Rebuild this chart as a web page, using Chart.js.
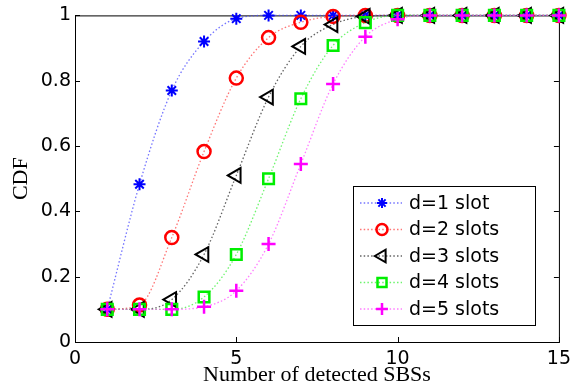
<!DOCTYPE html>
<html>
<head>
<meta charset="utf-8">
<script src="https://cdn.jsdelivr.net/npm/chart.js@4/dist/chart.umd.min.js"></script>
<style>
  html, body { margin: 0; padding: 0; background: #fff; }
  #wrap { width: 577px; height: 389px; }
</style>
</head>
<body>
<div id="wrap"><canvas id="cdf"></canvas></div>
<script>
// data
const detected = [1, 2, 3, 4, 5, 6, 7, 8, 9, 10, 11, 12, 13, 14, 15];
const d1 = [0.1, 0.483, 0.77, 0.92, 0.99, 1, 1, 1, 1, 1, 1, 1, 1, 1, 1];
const d2 = [0.1, 0.113, 0.32, 0.583, 0.808, 0.932, 0.979, 0.997, 1, 1, 1, 1, 1, 1, 1];
const d3 = [0.1, 0.1, 0.13, 0.268, 0.51, 0.75, 0.905, 0.972, 0.997, 1, 1, 1, 1, 1, 1];
const d4 = [0.1, 0.1, 0.1, 0.138, 0.268, 0.5, 0.745, 0.908, 0.978, 1, 1, 1, 1, 1, 1];
const d5 = [0.1, 0.1, 0.1, 0.108, 0.157, 0.3, 0.545, 0.79, 0.935, 0.988, 1, 1, 1, 1, 1];
const seriesLabels = ["d=1 slot", "d=2 slots", "d=3 slots", "d=4 slots", "d=5 slots"];
const xTicks = [0, 5, 10, 15];
const yTicks = [0, 0.2, 0.4, 0.6, 0.8, 1];

function pts(vals) {
    return vals.map((v, i) => ({ x: detected[i], y: v }));
}

function makeSet(i, vals, color, lineColor, style, radius, width, rot) {
    return {
        label: seriesLabels[i],
        data: pts(vals),
        borderColor: lineColor,
        borderWidth: 1.3,
        borderDash: [1.5, 2.2],
        cubicInterpolationMode: "monotone",
        pointStyle: style,
        pointRadius: radius,
        pointBorderWidth: width,
        pointBorderColor: color,
        pointBackgroundColor: "rgba(0,0,0,0)",
        pointRotation: rot || 0,
        clip: false,
        order: 4 - i
    };
}

// frame + inward ticks
const framePlugin = {
    id: "frame",
    beforeDatasetsDraw(chart) {
        const { ctx, chartArea: a, scales } = chart;
        ctx.save();
        ctx.strokeStyle = "#000";
        ctx.lineWidth = 1;
        ctx.strokeRect(a.left + 0.5, a.top + 0.5, a.right - a.left, a.bottom - a.top);
        ctx.beginPath();
        xTicks.forEach(t => {
            const px = Math.round(scales.x.getPixelForValue(t)) + 0.5;
            ctx.moveTo(px, a.bottom); ctx.lineTo(px, a.bottom - 5);
            ctx.moveTo(px, a.top); ctx.lineTo(px, a.top + 5);
        });
        yTicks.forEach(t => {
            const py = Math.round(scales.y.getPixelForValue(t)) + 0.5;
            ctx.moveTo(a.left, py); ctx.lineTo(a.left + 5, py);
            ctx.moveTo(a.right, py); ctx.lineTo(a.right - 5, py);
        });
        ctx.stroke();
        ctx.restore();
    }
};

// legend box inside the plot, bottom right
const legendPlugin = {
    id: "boxLegend",
    afterDraw(chart) {
        const { ctx } = chart;
        const box = { x: 353, y: 186, w: 182, h: 139 };
        ctx.save();
        ctx.fillStyle = "#fff";
        ctx.fillRect(box.x, box.y, box.w, box.h);
        ctx.strokeStyle = "#000";
        ctx.lineWidth = 1;
        ctx.strokeRect(box.x + 0.5, box.y + 0.5, box.w, box.h);
        chart.data.datasets.forEach((ds, i) => {
            const y = box.y + 17 + i * 26.5;
            ctx.strokeStyle = ds.borderColor;
            ctx.lineWidth = ds.borderWidth;
            ctx.setLineDash(ds.borderDash);
            ctx.beginPath();
            ctx.moveTo(box.x + 7, y);
            ctx.lineTo(box.x + 49, y);
            ctx.stroke();
            ctx.setLineDash([]);
            ctx.strokeStyle = ds.pointBorderColor;
            ctx.fillStyle = "rgba(0,0,0,0)";
            ctx.lineWidth = ds.pointBorderWidth;
            Chart.helpers.drawPoint(ctx, {
                pointStyle: ds.pointStyle,
                rotation: ds.pointRotation,
                radius: ds.pointRadius * 0.85,
                borderWidth: ds.pointBorderWidth
            }, box.x + 29, y);
            ctx.fillStyle = "#000";
            ctx.font = "19px 'DejaVu Sans'";
            ctx.textBaseline = "middle";
            ctx.textAlign = "left";
            ctx.fillText(ds.label, box.x + 56, y + 1);
        });
        ctx.restore();
    }
};

new Chart(document.getElementById("cdf"), {
    type: "line",
    data: {
        datasets: [
            makeSet(0, d1, "#0000ff", "rgba(70,70,255,0.75)", "star", 6, 2),
            makeSet(1, d2, "#ff0000", "rgba(255,70,70,0.75)", "circle", 6.5, 2.5),
            makeSet(2, d3, "#000000", "rgba(60,60,60,0.8)", "triangle", 8.5, 2, -90),
            makeSet(3, d4, "#00ee00", "rgba(60,240,60,0.75)", "rect", 7.5, 2.5),
            makeSet(4, d5, "#ff00ff", "rgba(255,80,255,0.75)", "cross", 7, 2.5)
        ]
    },
    options: {
        responsive: true,
        maintainAspectRatio: false,
        animation: false,
        layout: { padding: { top: 15, right: 11, left: 0, bottom: 0 } },
        plugins: { legend: { display: false }, tooltip: { enabled: false } },
        scales: {
            x: {
                type: "linear",
                min: 0, max: 15,
                afterFit(s) { s.height = 47; },
                afterBuildTicks(s) { s.ticks = xTicks.map(v => ({ value: v })); },
                grid: { display: false, drawTicks: false },
                border: { display: false },
                ticks: {
                    color: "#000",
                    padding: 6,
                    maxRotation: 0,
                    font: { family: "'DejaVu Sans'", size: 19 }
                },
                title: {
                    display: true,
                    text: "Number of detected SBSs",
                    color: "#000",
                    padding: { top: 0, bottom: 1 },
                    font: { family: "'Liberation Serif'", size: 22 }
                }
            },
            y: {
                min: 0, max: 1,
                afterFit(s) { s.width = 75; },
                afterBuildTicks(s) { s.ticks = yTicks.map(v => ({ value: v })); },
                grid: { display: false, drawTicks: false },
                border: { display: false },
                ticks: {
                    color: "#000",
                    padding: 4,
                    font: { family: "'DejaVu Sans'", size: 19 },
                    callback: v => String(v)
                },
                title: {
                    display: true,
                    text: "CDF",
                    color: "#000",
                    padding: { top: 8, bottom: 0 },
                    font: { family: "'Liberation Serif'", size: 22 }
                }
            }
        }
    },
    plugins: [framePlugin, legendPlugin]
});
</script>
</body>
</html>
